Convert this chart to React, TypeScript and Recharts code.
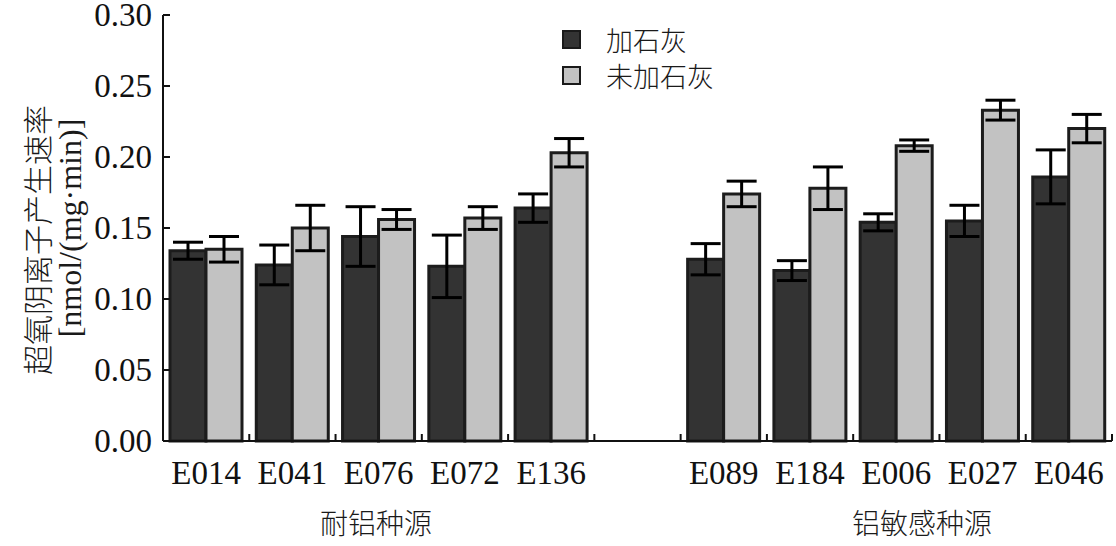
import React from "react";
import { BarChart, Bar, XAxis, YAxis, ErrorBar } from "recharts";

// genotypes (Al-tolerant first, then Al-sensitive)
const genotypes = ["E014", "E041", "E076", "E072", "E136", "E089", "E184", "E006", "E027", "E046"];
const limed = [0.134, 0.124, 0.144, 0.123, 0.164, 0.128, 0.120, 0.154, 0.155, 0.186];
const limedErr = [0.006, 0.014, 0.021, 0.022, 0.010, 0.011, 0.007, 0.006, 0.011, 0.019];
const unlimed = [0.135, 0.150, 0.156, 0.157, 0.203, 0.174, 0.178, 0.208, 0.233, 0.220];
const unlimedErr = [0.009, 0.016, 0.007, 0.008, 0.010, 0.009, 0.015, 0.004, 0.007, 0.010];
const yTicks = [0, 0.05, 0.1, 0.15, 0.2, 0.25, 0.3];
const legendItems = [
    { label: "加石灰", color: "#333333" },
    { label: "未加石灰", color: "#c2c2c2" },
];

const rows: any[] = genotypes.map((g, i) => ({
    name: g,
    limed: limed[i],
    limedErr: limedErr[i],
    unlimed: unlimed[i],
    unlimedErr: unlimedErr[i],
}));
// empty slot between the two groups
const data = [...rows.slice(0, 5), { name: "" }, ...rows.slice(5)];

const LEFT = 163;
const RIGHT = 1112;
const BAND = (RIGHT - LEFT) / data.length;
const serif = "'Liberation Serif', 'Times New Roman', serif";
const cjk = "'Noto Sans CJK SC', sans-serif";

const XTick = (props: any) => {
    const { x, y, payload } = props;
    return (
        <g>
            <line x1={x + BAND / 2} x2={x + BAND / 2} y1={y} y2={y - 7} stroke="#111" strokeWidth={2} />
            <text x={x} y={y + 43} textAnchor="middle" fontFamily={serif} fontSize={33} fill="#111">
                {payload.value}
            </text>
        </g>
    );
};

const YTick = (props: any) => {
    const { x, y, payload } = props;
    return (
        <g>
            <line x1={x} x2={x + 7} y1={y} y2={y} stroke="#111" strokeWidth={2} />
            <text x={x - 11} y={y + 11} textAnchor="end" fontFamily={serif} fontSize={33} fill="#111">
                {payload.value.toFixed(2)}
            </text>
        </g>
    );
};

export default function App() {
    return (
        <div style={{ position: "absolute", left: 0, top: 0, width: 1116, height: 546, background: "#fff" }}>
            <BarChart
                width={1116}
                height={546}
                data={data}
                margin={{ top: 15, right: 1116 - RIGHT, left: 0, bottom: 75 }}
                barCategoryGap={7}
                barGap={0}>
                <XAxis
                    dataKey="name"
                    height={30}
                    interval={0}
                    tickSize={0}
                    tickMargin={0}
                    tick={<XTick />}
                    stroke="#111"
                    strokeWidth={2} />
                <YAxis
                    width={LEFT}
                    domain={[0, 0.3]}
                    ticks={yTicks}
                    tickSize={0}
                    tickMargin={0}
                    tick={<YTick />}
                    stroke="#111"
                    strokeWidth={2} />
                <Bar dataKey="limed" name="加石灰" fill="#333333" stroke="#1c1c1c" strokeWidth={3} isAnimationActive={false}>
                    <ErrorBar dataKey="limedErr" width={15} stroke="#000" strokeWidth={3} />
                </Bar>
                <Bar dataKey="unlimed" name="未加石灰" fill="#c2c2c2" stroke="#1c1c1c" strokeWidth={3} isAnimationActive={false}>
                    <ErrorBar dataKey="unlimedErr" width={15} stroke="#000" strokeWidth={3} />
                </Bar>
                <text x={36} y={240} transform="rotate(-90 36 240)" textAnchor="middle" dominantBaseline="central"
                    fontFamily={cjk} fontSize={30} fontWeight={300} fill="#1a1a1a">
                    超氧阴离子产生速率
                </text>
                <text x={70} y={228} transform="rotate(-90 70 228)" textAnchor="middle" dominantBaseline="central"
                    fontFamily={serif} fontSize={32} fill="#1a1a1a">
                    [nmol/(mg·min)]
                </text>
                <text x={376} y={522} textAnchor="middle" dominantBaseline="central"
                    fontFamily={cjk} fontSize={28} fontWeight={300} fill="#1a1a1a">
                    耐铝种源
                </text>
                <text x={922} y={522} textAnchor="middle" dominantBaseline="central"
                    fontFamily={cjk} fontSize={28} fontWeight={300} fill="#1a1a1a">
                    铝敏感种源
                </text>
            </BarChart>
            <div style={{ position: "absolute", left: 562, top: 21 }}>
                {legendItems.map((p) => (
                    <div key={p.label} style={{ display: "flex", alignItems: "center", height: 36 }}>
                        <div style={{
                            width: 15, height: 15, background: p.color,
                            border: "2px solid #1a1a1a", marginRight: 25
                        }} />
                        <span style={{ fontFamily: cjk, fontSize: 27, color: "#1a1a1a", fontWeight: 300 }}>{p.label}</span>
                    </div>
                ))}
            </div>
        </div>
    );
}
